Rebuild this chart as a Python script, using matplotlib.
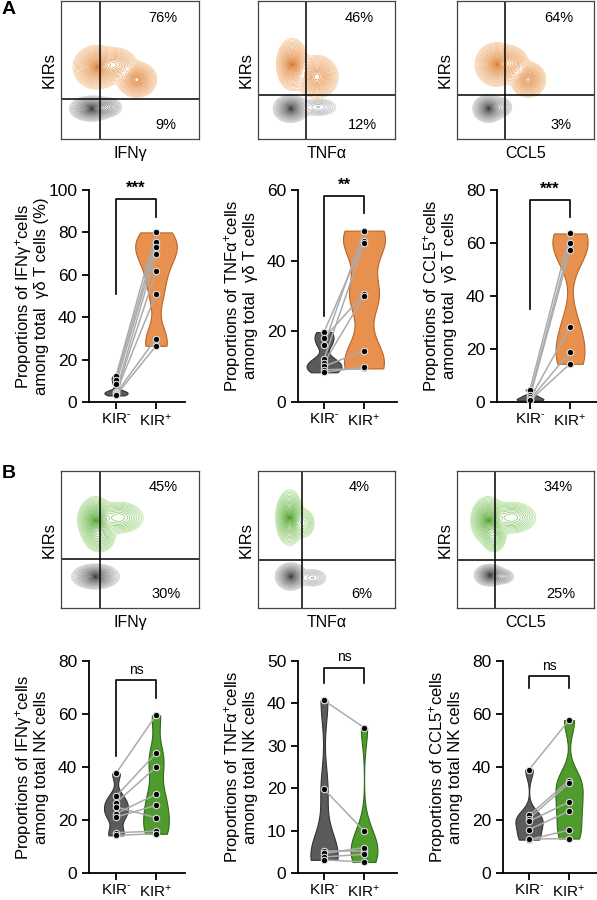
import numpy as np
import matplotlib
matplotlib.use('Agg')
import matplotlib.pyplot as plt

plt.rcParams['font.family'] = ['Liberation Sans', 'DejaVu Sans']
plt.rcParams['mathtext.fontset'] = 'custom'
plt.rcParams['mathtext.rm'] = 'Liberation Sans'
plt.rcParams['mathtext.it'] = 'Liberation Sans:italic'
plt.rcParams['mathtext.bf'] = 'Liberation Sans:bold'

# ── Config ────────────────────────────────────────────────────────────────────
W, H, DPI = 597, 900, 100
ORANGE, ORANGE_EDGE = '#E8914F', '#B96527'
GREEN, GREEN_EDGE = '#4F9B2D', '#2E6A16'
GREY, GREY_EDGE = '#5B5B5B', '#333333'
PAIR_LINE = '#ababab'

# ── Flow (contour) panels ─────────────────────────────────────────────────────
markers = ['IFNγ', 'TNFα', 'CCL5']
pct_A_top = ['76%', '46%', '64%']
pct_A_bot = ['9%', '12%', '3%']
pct_B_top = ['45%', '4%', '34%']
pct_B_bot = ['30%', '6%', '25%']
gate_A_x = [0.28, 0.35, 0.35]
gate_A_y = [0.29, 0.32, 0.32]
gate_B_x = [0.28, 0.32, 0.28]
gate_B_y = [0.36, 0.35, 0.35]

# populations: (cx, cy, sx, sy, weight) in gate-axis fractions
kir_pos_A = [
    [(0.26, 0.52, 0.06, 0.055, 1.0), (0.40, 0.54, 0.055, 0.045, 0.5), (0.55, 0.43, 0.05, 0.045, 0.95)],
    [(0.25, 0.54, 0.04, 0.065, 1.0), (0.43, 0.45, 0.055, 0.055, 0.8)],
    [(0.29, 0.54, 0.055, 0.055, 1.0), (0.40, 0.55, 0.045, 0.045, 0.5), (0.52, 0.43, 0.045, 0.045, 0.9)],
]
kir_neg_A = [
    [(0.22, 0.22, 0.055, 0.032, 1.0), (0.33, 0.23, 0.045, 0.028, 0.3)],
    [(0.24, 0.22, 0.045, 0.035, 1.0), (0.44, 0.23, 0.06, 0.028, 0.15)],
    [(0.23, 0.22, 0.04, 0.035, 1.0), (0.32, 0.23, 0.035, 0.03, 0.2)],
]
kir_pos_B = [
    [(0.25, 0.64, 0.045, 0.06, 1.0), (0.42, 0.66, 0.07, 0.045, 0.35), (0.28, 0.52, 0.045, 0.045, 0.3)],
    [(0.23, 0.66, 0.035, 0.07, 1.0), (0.33, 0.62, 0.035, 0.045, 0.2)],
    [(0.23, 0.64, 0.045, 0.06, 1.0), (0.40, 0.66, 0.07, 0.045, 0.35), (0.27, 0.52, 0.035, 0.045, 0.3)],
]
kir_neg_B = [
    [(0.25, 0.23, 0.06, 0.032, 1.0)],
    [(0.24, 0.23, 0.04, 0.035, 1.0), (0.40, 0.22, 0.045, 0.028, 0.15)],
    [(0.24, 0.24, 0.04, 0.028, 1.0), (0.33, 0.23, 0.035, 0.022, 0.25)],
]

# ── Violin panels: paired values (KIR- , KIR+) ────────────────────────────────
groups = ['KIR$^{\\text{-}}$', 'KIR$^{+}$']
ifng_gd_neg = [12.1, 10.5, 8.5, 4.8, 4.5, 4.3, 4.0, 3.1]
ifng_gd_pos = [80.0, 75.7, 72.9, 69.8, 61.6, 50.9, 29.9, 26.5]
tnfa_gd_neg = [19.8, 18.1, 16.1, 12.1, 11.0, 10.1, 9.1, 8.4]
tnfa_gd_pos = [45.7, 30.6, 48.5, 44.9, 30.0, 14.5, 9.5, 9.9]
ccl5_gd_neg = [4.7, 2.5, 1.8, 1.2, 0.9, 0.6]
ccl5_gd_pos = [63.6, 59.9, 57.4, 28.3, 18.8, 14.4]
ifng_nk_neg = [37.6, 28.9, 26.5, 24.9, 22.4, 21.1, 15.2, 14.2]
ifng_nk_pos = [59.5, 45.2, 39.9, 20.9, 29.7, 25.5, 15.8, 14.8]
tnfa_nk_neg = [40.7, 19.8, 5.2, 4.6, 3.8, 3.1]
tnfa_nk_pos = [34.3, 9.9, 5.2, 6.0, 4.4, 2.6]
ccl5_nk_neg = [39.0, 21.7, 20.5, 19.5, 16.4, 12.6, 12.8]
ccl5_nk_pos = [57.7, 34.9, 33.9, 26.8, 23.3, 16.2, 13.0]

ymax_A = [100, 60, 80]
ystep_A = [20, 20, 20]
ymax_B = [80, 50, 80]
ystep_B = [20, 10, 20]
sig_A = ['***', '**', '***']
sig_B = ['ns', 'ns', 'ns']
ylabels_A = ['Proportions of IFNγ$^{+}$cells\namong total  γδ T cells (%)',
             'Proportions of TNFα$^{+}$cells\namong total  γδ T cells',
             'Proportions of CCL5$^{+}$cells\namong total  γδ T cells']
ylabels_B = ['Proportions of IFNγ$^{+}$cells\namong total NK cells',
             'Proportions of TNFα$^{+}$cells\namong total NK cells',
             'Proportions of CCL5$^{+}$cells\namong total NK cells']


def px_axes(fig, l, t, r, b):
    return fig.add_axes([l / W, 1 - b / H, (r - l) / W, (b - t) / H])


def density(X, Y, comps):
    Z = np.zeros_like(X)
    for cx, cy, sx, sy, w in comps:
        Z += w * np.exp(-0.5 * (((X - cx) / sx) ** 2 + ((Y - cy) / sy) ** 2))
    return Z


def ramp(c0, c1, n):
    a, b = np.array(matplotlib.colors.to_rgb(c0)), np.array(matplotlib.colors.to_rgb(c1))
    return [tuple(a + (b - a) * t) for t in np.linspace(0, 1, n)]


def draw_flow(ax, pos_comps, neg_comps, pos_cols, gx, gy, ptop, pbot, marker):
    g = np.linspace(0, 1, 400)
    X, Y = np.meshgrid(g, g)
    # ring radii (in sigma units) -> contour levels, rings tighten towards the core
    radii = 2.9 * np.linspace(1, 0.04, 26) ** 1.25
    for comps, cols in [(neg_comps, ('#cfcfcf', '#303030')), (pos_comps, pos_cols)]:
        Z = density(X, Y, comps)
        lev = np.sort(Z.max() * np.exp(-0.5 * radii ** 2))
        ax.contour(X, Y, Z, levels=lev, colors=ramp(cols[0], cols[1], len(lev)), linewidths=0.5)
    ax.axvline(gx, color='black', lw=1.1)
    ax.axhline(gy, color='black', lw=1.1)
    ax.set_xlim(0, 1)
    ax.set_ylim(0, 1)
    ax.set_xticks([])
    ax.set_yticks([])
    for s in ax.spines.values():
        s.set_linewidth(0.9)
        s.set_color('#444444')
    ax.text(0.74, 0.88, ptop, transform=ax.transAxes, ha='center', va='center', fontsize=10.5)
    ax.text(0.76, 0.10, pbot, transform=ax.transAxes, ha='center', va='center', fontsize=10.5)
    ax.set_ylabel('KIRs', fontsize=12, labelpad=3)
    ax.set_xlabel(marker, fontsize=11.5, labelpad=5)


def draw_violin(ax, neg, pos, color, edge, widths, bw, ymax, ystep, sig, bracket, ylabel, xlim):
    parts = ax.violinplot([neg, pos], positions=[0, 1], widths=widths,
                          showextrema=False, bw_method=bw)
    for body, fc, ec in zip(parts['bodies'], [GREY, color], [GREY_EDGE, edge]):
        body.set_facecolor(fc)
        body.set_edgecolor(ec)
        body.set_alpha(1)
        body.set_linewidth(0.8)
        body.set_zorder(2)
    for a, b in zip(neg, pos):
        ax.plot([0, 1], [a, b], color=PAIR_LINE, lw=1.1, zorder=3)
    ax.plot(np.zeros(len(neg)), neg, 'o', ms=4.6, mfc='black', mec='#dddddd', mew=0.8, zorder=4)
    ax.plot(np.ones(len(pos)), pos, 'o', ms=4.6, mfc='black', mec='#dddddd', mew=0.8, zorder=4)

    top, lb, rb = bracket
    ax.plot([0, 0, 1, 1], [lb, top, top, rb], color='black', lw=1.2, clip_on=False, zorder=5)
    ax.annotate(sig, xy=(0.5, top), xytext=(0, 2.5), textcoords='offset points',
                ha='center', va='bottom', fontsize=12 if '*' in sig else 10,
                fontweight='bold' if '*' in sig else 'normal')

    ax.set_ylim(0, ymax)
    ax.set_xlim(*xlim)
    ax.set_yticks(np.arange(0, ymax + 1, ystep))
    ax.set_xticks([0, 1])
    ax.set_xticklabels(groups, fontsize=11)
    ax.tick_params(axis='y', labelsize=12.5, width=1.3, length=5)
    ax.tick_params(axis='x', width=1.3, length=5, pad=2.5)
    ax.spines[['top', 'right']].set_visible(False)
    ax.spines[['left', 'bottom']].set_linewidth(1.3)
    ax.set_ylabel(ylabel, fontsize=12, linespacing=1.0)


fig = plt.figure(figsize=(W / DPI, H / DPI), dpi=DPI)

# flow boxes (pixel rectangles)
flow_A = [(61, 1, 199, 139), (258, 1, 395, 139), (457, 1, 594, 139)]
flow_B = [(61, 471, 199, 608), (258, 471, 395, 608), (457, 471, 594, 608)]
for i in range(3):
    ax = px_axes(fig, *flow_A[i])
    draw_flow(ax, kir_pos_A[i], kir_neg_A[i], ('#f6cba0', '#d96a10'),
              gate_A_x[i], gate_A_y[i], pct_A_top[i], pct_A_bot[i], markers[i])
    ax = px_axes(fig, *flow_B[i])
    draw_flow(ax, kir_pos_B[i], kir_neg_B[i], ('#b8e2a0', '#3c9818'),
              gate_B_x[i], gate_B_y[i], pct_B_top[i], pct_B_bot[i], markers[i])

# violin axes: (left, top, right, bottom) px and tick pixel positions
viol_A = [(89, 190, 185, 402, 116, 156), (298, 190, 397, 402, 324, 364), (497, 190, 597, 402, 530, 570)]
viol_B = [(89, 661, 185, 873, 116, 156), (298, 661, 397, 873, 324, 364), (503, 661, 597, 873, 529, 569)]
data_A = [(ifng_gd_neg, ifng_gd_pos), (tnfa_gd_neg, tnfa_gd_pos), (ccl5_gd_neg, ccl5_gd_pos)]
data_B = [(ifng_nk_neg, ifng_nk_pos), (tnfa_nk_neg, tnfa_nk_pos), (ccl5_nk_neg, ccl5_nk_pos)]
widths_A = [[0.58, 1.04], [0.87, 1.05], [0.67, 0.88]]
widths_B = [[0.60, 0.64], [0.68, 0.67], [0.68, 0.68]]
brackets_A = [(95.6, 51.0, 87.4), (58.3, 24.4, 53.4), (76.2, 35.0, 69.7)]
brackets_B = [(72.7, 44.0, 66.2), (48.4, 44.7, 44.7), (74.3, 69.9, 69.9)]

for row, (viol, data, widths, brk, ymax, ystep, sig, ylabs, col, edge) in enumerate([
        (viol_A, data_A, widths_A, brackets_A, ymax_A, ystep_A, sig_A, ylabels_A, ORANGE, ORANGE_EDGE),
        (viol_B, data_B, widths_B, brackets_B, ymax_B, ystep_B, sig_B, ylabels_B, GREEN, GREEN_EDGE)]):
    for i in range(3):
        l, t, r, b, x0, x1 = viol[i]
        ax = px_axes(fig, l, t, r, b)
        s = x1 - x0
        draw_violin(ax, data[i][0], data[i][1], col, edge, widths[i], 0.35,
                    ymax[i], ystep[i], sig[i], brk[i], ylabs[i],
                    ((l - x0) / s, (r - x0) / s))
        ax.yaxis.set_label_coords(-40 / (r - l), 0.5)

fig.text(2 / W, 1 - 10 / H, 'A', fontsize=14, fontweight='bold', va='center', ha='left')
fig.text(2 / W, 1 - 474 / H, 'B', fontsize=14, fontweight='bold', va='center', ha='left')

fig.savefig('out.png', dpi=DPI)
